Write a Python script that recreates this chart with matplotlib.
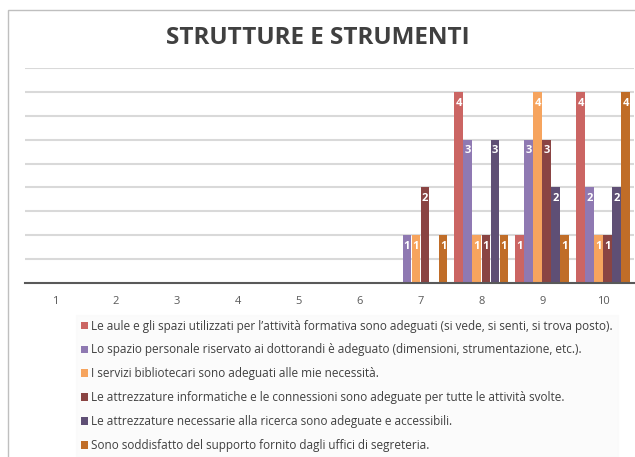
import numpy as np
import matplotlib.pyplot as plt
from matplotlib.patches import Rectangle, Patch

plt.rcParams['font.family'] = ['Open Sans', 'DejaVu Sans']

categories = ['1', '2', '3', '4', '5', '6', '7', '8', '9', '10']
series_names = [
    'Le aule e gli spazi utilizzati per l’attività formativa sono adeguati (si vede, si senti, si trova posto).',
    'Lo spazio personale riservato ai dottorandi è adeguato (dimensioni, strumentazione, etc.).',
    'I servizi bibliotecari sono adeguati alle mie necessità.',
    'Le attrezzature informatiche e le connessioni sono adeguate per tutte le attività svolte.',
    'Le attrezzature necessarie alla ricerca sono adeguate e accessibili.',
    'Sono soddisfatto del supporto fornito dagli uffici di segreteria.',
]
aule = [0, 0, 0, 0, 0, 0, 0, 4, 1, 4]
spazio = [0, 0, 0, 0, 0, 0, 1, 3, 3, 2]
biblioteca = [0, 0, 0, 0, 0, 0, 1, 1, 4, 1]
informatica = [0, 0, 0, 0, 0, 0, 2, 1, 3, 1]
ricerca = [0, 0, 0, 0, 0, 0, 0, 3, 2, 2]
segreteria = [0, 0, 0, 0, 0, 0, 1, 1, 1, 4]
series = [aule, spazio, biblioteca, informatica, ricerca, segreteria]
colors = ['#CB6563', '#8F79B2', '#F6A45E', '#8A4443', '#5F4F75', '#C06D28']

fig = plt.figure(figsize=(6.35, 4.57), dpi=100)
fig.patches.append(Rectangle((8 / 635, -0.1), 1.0, 1 - 10 / 457 + 0.1, transform=fig.transFigure,
                             fill=False, edgecolor='#BFBFBF', linewidth=1.0))

ax = fig.add_axes([24.6 / 635, 1 - 283 / 457, 609 / 635, 215 / 457])
x = np.arange(len(categories))
n = len(series)
w = 0.89 / n
for i, (vals, col) in enumerate(zip(series, colors)):
    pos = x - 0.445 + w * (i + 0.5)
    bars = ax.bar(pos, vals, width=w * 0.96, color=col, zorder=3)
    for b, v in zip(bars, vals):
        if v > 0:
            ax.text(b.get_x() + b.get_width() / 2, v - 0.12, str(v), ha='center', va='top',
                    color='white', fontsize=8, fontweight='bold', zorder=4)

ax.set_ylim(0, 4.5)
ax.set_xlim(-0.5, len(categories) - 0.5)
ax.set_yticks(np.arange(0.5, 4.51, 0.5))
ax.yaxis.grid(True, color='#D9D9D9', linewidth=1.5, zorder=0)
ax.tick_params(axis='y', left=False, labelleft=False)
ax.tick_params(axis='x', length=0, labelsize=8, colors='#595959', pad=9)
ax.set_xticks(x)
ax.set_xticklabels(categories)
for s in ['top', 'right', 'left']:
    ax.spines[s].set_visible(False)
ax.spines['bottom'].set_color('#595959')
ax.spines['bottom'].set_linewidth(1.5)
ax.spines['bottom'].set_zorder(5)

fig.text(0.5, 1 - 38 / 457, 'STRUTTURE E STRUMENTI', ha='center', va='center',
         fontsize=17.5, fontweight='bold', color='#404040')

handles = [Patch(facecolor=c) for c in colors]
leg = fig.legend(handles, series_names, loc='upper left', bbox_to_anchor=(70 / 635, 1 - 309 / 457),
                 fontsize=8.5, frameon=True, handlelength=0.6, handleheight=0.6, handletextpad=0.3,
                 labelspacing=0.92, borderpad=0.4, fancybox=False)
leg.get_frame().set_facecolor('#FAFAFA')
leg.get_frame().set_edgecolor('#FAFAFA')
for t in leg.get_texts():
    t.set_color('#404040')

fig.savefig('out.png', dpi=100)
